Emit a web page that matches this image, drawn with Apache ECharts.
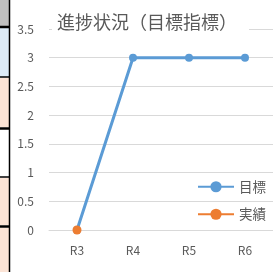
<!DOCTYPE html>
<html>
<head>
<meta charset="utf-8">
<title>進捗状況</title>
<style>
  html, body { margin: 0; padding: 0; background: #fff; }
  #chart { width: 273px; height: 272px; }
</style>
</head>
<body>
<div id="chart"></div>
<script src="https://cdn.jsdelivr.net/npm/echarts@6/dist/echarts.min.js"></script>
<script>
var years = ['R3', 'R4', 'R5', 'R6'];
var target = [0, 3, 3, 3];     // 目標
var actual = [0, null, null, null]; // 実績
var yTicks = [0, 3.5, 0.5];   // min, max, interval

var chart = echarts.init(document.getElementById('chart'));

// spreadsheet cells peeking in at the left edge
var cells = [
  { y: 0, h: 26, c: '#bfbfbf' },
  { y: 28, h: 49, c: '#ddebf7' },
  { y: 78, h: 49, c: '#fce4d6' },
  { y: 130, h: 46, c: '#ffffff' },
  { y: 178, h: 47, c: '#fce4d6' },
  { y: 228, h: 44, c: '#fce4d6' }
];
var lines = [27, 77, 128.5, 177, 226.5];
var graphics = [];
cells.forEach(function (d) {
  graphics.push({ type: 'rect', shape: { x: 0, y: d.y, width: 9, height: d.h }, style: { fill: d.c }, silent: true });
});
lines.forEach(function (y, i) {
  graphics.push({ type: 'line', shape: { x1: 0, y1: y, x2: 9, y2: y }, style: { stroke: '#000', lineWidth: (i == 0 || i == 2 || i == 4) ? 2.5 : 1.5 }, silent: true });
});
graphics.push({ type: 'line', shape: { x1: 9.5, y1: 0, x2: 9.5, y2: 272 }, style: { stroke: '#000', lineWidth: 1.5 }, silent: true });

var option = {
  textStyle: { fontFamily: '"Noto Sans CJK JP", "Noto Sans", sans-serif' },
  animation: false,
  color: ['#5B9BD5', '#ED7D31'],
  graphic: graphics,
  title: {
    text: '進捗状況（目標指標）',
    left: 52,
    top: 10,
    padding: [3, 12, 3, 5],
    backgroundColor: '#fff',
    textStyle: { fontSize: 18, fontWeight: 'normal', color: '#595959' }
  },
  legend: {
    orient: 'vertical',
    left: 192,
    top: 175,
    itemWidth: 36,
    itemHeight: 14,
    itemGap: 14,
    textStyle: { fontSize: 13.5, color: '#595959' },
    data: ['目標', '実績']
  },
  grid: { left: 49, right: 0, top: 29, bottom: 42 },
  xAxis: {
    type: 'category',
    data: years,
    axisLine: { lineStyle: { color: '#d9d9d9' } },
    axisTick: { show: false },
    axisLabel: { color: '#595959', fontSize: 12, margin: 14 }
  },
  yAxis: {
    type: 'value',
    min: yTicks[0],
    max: yTicks[1],
    interval: yTicks[2],
    axisLine: { show: false },
    axisTick: { show: false },
    splitLine: { lineStyle: { color: '#d9d9d9' } },
    axisLabel: { color: '#595959', fontSize: 12, margin: 15 }
  },
  series: [
    {
      name: '目標',
      type: 'line',
      data: target,
      symbol: 'circle',
      symbolSize: 8,
      lineStyle: { width: 3 }
    },
    {
      name: '実績',
      type: 'line',
      data: actual,
      symbol: 'circle',
      symbolSize: 9,
      lineStyle: { width: 3 }
    }
  ]
};
chart.setOption(option);
</script>
</body>
</html>
